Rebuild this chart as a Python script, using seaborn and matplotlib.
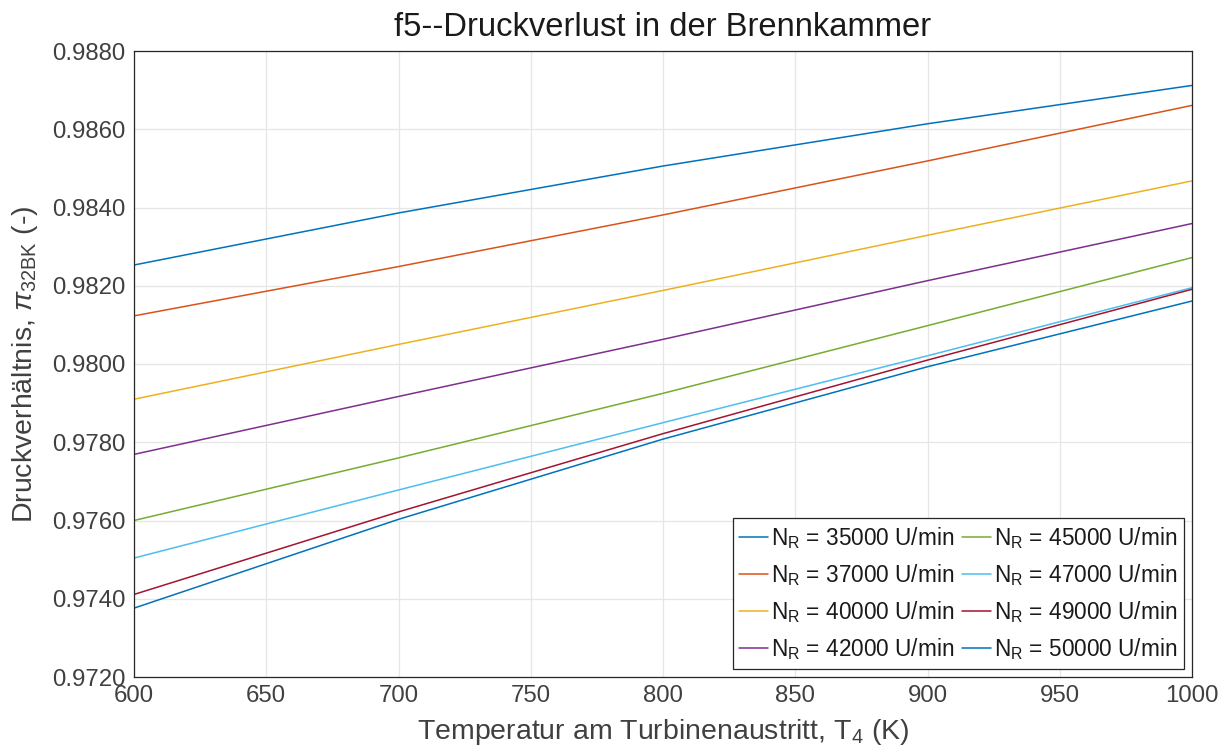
import numpy as np
import pandas as pd
import matplotlib
matplotlib.use("Agg")
import matplotlib.pyplot as plt
import seaborn as sns
from matplotlib.ticker import FormatStrFormatter

# ---- data ----
T4 = [600, 700, 800, 900, 1000]
speeds = [35000, 37000, 40000, 42000, 45000, 47000, 49000, 50000]
pi_35000 = [0.98253, 0.98386, 0.98506, 0.98614, 0.98712]
pi_37000 = [0.98123, 0.98249, 0.98381, 0.98519, 0.98661]
pi_40000 = [0.97910, 0.98050, 0.98188, 0.98329, 0.98468]
pi_42000 = [0.97769, 0.97917, 0.98063, 0.98213, 0.98359]
pi_45000 = [0.97600, 0.97760, 0.97925, 0.98098, 0.98272]
pi_47000 = [0.97504, 0.97678, 0.97850, 0.98021, 0.98195]
pi_49000 = [0.97411, 0.97622, 0.97822, 0.98010, 0.98191]
pi_50000 = [0.97376, 0.97603, 0.97808, 0.97993, 0.98161]
series = [pi_35000, pi_37000, pi_40000, pi_42000, pi_45000, pi_47000, pi_49000, pi_50000]

colors = ["#0072BD", "#D95319", "#EDB120", "#7E2F8E", "#77AC30", "#4DBEEE", "#A2142F", "#0072BD"]
labels = [r"$\mathregular{N_R}$ = %d U/min" % s for s in speeds]

rows = []
for lab, vals in zip(labels, series):
    for t, v in zip(T4, vals):
        rows.append({"T": t, "pi": v, "label": lab})
df = pd.DataFrame(rows)

sns.set_theme(style="white")
plt.rcParams["font.family"] = ["Liberation Sans", "DejaVu Sans"]
plt.rcParams["mathtext.fontset"] = "custom"
plt.rcParams["mathtext.rm"] = "Liberation Sans"
plt.rcParams["mathtext.it"] = "Liberation Sans:italic"
plt.rcParams["mathtext.bf"] = "Liberation Sans:bold"

fig = plt.figure(figsize=(12.27, 7.49), dpi=100)
ax = fig.add_axes([134 / 1227, 1 - 677 / 749, (1192 - 134) / 1227, (677 - 51) / 749])

sns.lineplot(data=df, x="T", y="pi", hue="label", palette=colors, ax=ax,
             linewidth=1.1, legend=True)

ax.set_xlim(600, 1000)
ax.set_ylim(0.972, 0.988)
ax.set_xticks(np.arange(600, 1001, 50))
ax.set_yticks(np.arange(0.972, 0.98801, 0.002))
ax.yaxis.set_major_formatter(FormatStrFormatter("%.4f"))

ax.grid(True, color="#e6e6e6", linewidth=0.9)
ax.set_axisbelow(True)
for side in ["left", "bottom", "top", "right"]:
    ax.spines[side].set_visible(True)
    ax.spines[side].set_color("#262626")
    ax.spines[side].set_linewidth(0.9)
ax.tick_params(axis="both", direction="in", length=7, width=0.9, colors="#262626",
               labelsize=17.3, labelcolor="#404040", pad=6)

ax.set_xlabel(r"Temperatur am Turbinenaustritt, $\mathregular{T_4}$ (K)", fontsize=20.5,
              color="#404040", labelpad=7)
ax.set_ylabel(r"Druckverhältnis, $\pi_{\mathregular{32BK}}$ (-)", fontsize=20.5,
              color="#404040", labelpad=9)
ax.set_title("f5--Druckverlust in der Brennkammer", fontsize=23.6, color="#1a1a1a", pad=11)

handles, labs = ax.get_legend_handles_labels()
leg = ax.legend(handles, labs, ncol=2, loc="lower right", fontsize=16.3,
                frameon=True, fancybox=False, edgecolor="#262626", framealpha=1,
                handlelength=1.25, handletextpad=0.15, columnspacing=0.35,
                labelspacing=0.5, borderpad=0.3, borderaxespad=0.35)
leg.get_frame().set_linewidth(0.9)
for t in leg.get_texts():
    t.set_color("#1a1a1a")

fig.savefig("out.png", dpi=100)
